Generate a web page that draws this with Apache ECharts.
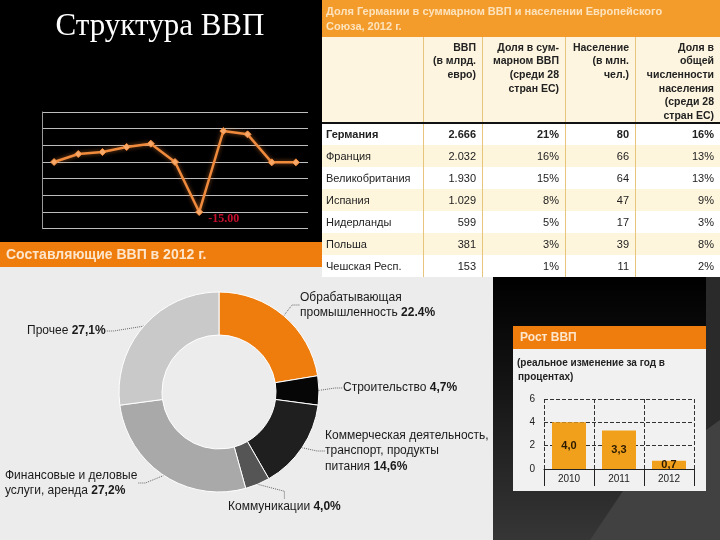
<!DOCTYPE html>
<html><head><meta charset="utf-8">
<script src="https://cdn.jsdelivr.net/npm/echarts@6/dist/echarts.min.js"></script>
<style>html,body{margin:0;padding:0;background:#000}#c{width:720px;height:540px}</style>
</head><body><div id="c"></div>
<script>
// ---------- data ----------
var lineCats = ['1','2','3','4','5','6','7','8','9','10','11'];
var lineValues = [0, 2.4, 3, 4.5, 5.5, 0, -15, 9.3, 8.3, -0.1, -0.1];

var pieNames = ['Обрабатывающая\nпромышленность', 'Строительство', 'Коммерческая деятельность,\nтранспорт, продукты\nпитания', 'Коммуникации', 'Финансовые и деловые\nуслуги, аренда', 'Прочее'];
var pieValues = [22.4, 4.7, 14.6, 4.0, 27.2, 27.1];
var pieLabels = ['22.4%', '4,7%', '14,6%', '4,0%', '27,2%', '27,1%'];

var barCats = ['2010', '2011', '2012'];
var barValues = [4.0, 3.3, 0.7];
var barLabels = ['4,0', '3,3', '0,7'];

var tableTitle = ['Доля Германии в суммарном ВВП и населении Европейского', 'Союза, 2012 г.'];
var tableHeaders = [
  [],
  ['ВВП', '(в млрд.', 'евро)'],
  ['Доля в сум-', 'марном ВВП', '(среди 28', 'стран ЕС)'],
  ['Население', '(в млн.', 'чел.)'],
  ['Доля в', 'общей', 'численности', 'населения', '(среди 28', 'стран ЕС)']
];
var countries = ['Германия', 'Франция', 'Великобритания', 'Испания', 'Нидерланды', 'Польша', 'Чешская Респ.'];
var gdpBn = ['2.666', '2.032', '1.930', '1.029', '599', '381', '153'];
var gdpShare = ['21%', '16%', '15%', '8%', '5%', '3%', '1%'];
var population = ['80', '66', '64', '47', '17', '39', '11'];
var popShare = ['16%', '13%', '13%', '9%', '3%', '8%', '2%'];

// ---------- layout helpers ----------
var SANS = '"Liberation Sans", Arial, sans-serif';
var SERIF = '"Liberation Serif", "DejaVu Serif", serif';
var colL = [322, 423, 482, 565, 635];
var colR = [423, 482, 565, 635, 720];
var rowTop = 123, rowH = 22;
var g = [];
// backgrounds
g.push({type:'rect', shape:{x:0,y:0,width:720,height:540}, style:{fill:'#000'}});
g.push({type:'rect', shape:{x:0,y:266,width:493,height:274}, style:{fill:'#ececec'}});
g.push({type:'rect', shape:{x:0,y:242,width:322,height:25}, style:{fill:'#ef7d0e'}});
g.push({type:'text', x:6, y:255, style:{text:'Составляющие ВВП в 2012 г.', fill:'#fde6cc', font:'bold 14px '+SANS, textVerticalAlign:'middle'}});
// title
g.push({type:'text', x:160, y:27, style:{text:'Структура ВВП', fill:'#fff', font:'31px '+SERIF, textAlign:'center', textVerticalAlign:'middle'}});
// right dark panel
g.push({type:'rect', shape:{x:493,y:277,width:227,height:263}, style:{fill:{type:'linear',x:0,y:0,x2:0,y2:1,colorStops:[{offset:0,color:'#000'},{offset:0.35,color:'#111'},{offset:1,color:'#363636'}]}}});
g.push({type:'rect', shape:{x:706,y:277,width:14,height:263}, style:{fill:'#2a2a2a'}});
g.push({type:'polygon', shape:{points:[[590,540],[625,488],[720,420],[720,540]]}, style:{fill:'#414141'}});
// table
g.push({type:'rect', shape:{x:322,y:0,width:398,height:37}, style:{fill:'#f39c2c'}});
tableTitle.forEach(function(t,i){
  g.push({type:'text', x:326, y:12+i*15, style:{text:t, fill:'#fde3bd', font:'bold 11px '+SANS, textVerticalAlign:'middle'}});
});
g.push({type:'rect', shape:{x:322,y:37,width:398,height:86}, style:{fill:'#fdf5df'}});
countries.forEach(function(c,i){
  g.push({type:'rect', shape:{x:322,y:rowTop+i*rowH,width:398,height:rowH}, style:{fill: i%2===1 ? '#fdf5dc' : '#ffffff'}});
});
for (var k=1;k<colL.length;k++){
  g.push({type:'line', shape:{x1:colL[k]+0.5,y1:37,x2:colL[k]+0.5,y2:rowTop+7*rowH}, style:{stroke:'#e7c57c',lineWidth:1}});
}
g.push({type:'rect', shape:{x:322,y:122,width:398,height:2}, style:{fill:'#111'}});
tableHeaders.forEach(function(lines,ci){
  lines.forEach(function(t,li){
    g.push({type:'text', x:colR[ci]-6, y:48+li*13.6, style:{text:t, fill:'#222', font:'bold 10.5px '+SANS, textAlign:'right', textVerticalAlign:'middle'}});
  });
});
var cols = [countries, gdpBn, gdpShare, population, popShare];
cols.forEach(function(arr,ci){
  arr.forEach(function(t,ri){
    var bold = ri===0 ? 'bold ' : '';
    var y = rowTop + ri*rowH + rowH/2 + 1;
    if (ci===0) g.push({type:'text', x:326, y:y, style:{text:t, fill:'#222', font:bold+'11px '+SANS, textVerticalAlign:'middle'}});
    else g.push({type:'text', x:colR[ci]-6, y:y, style:{text:t, fill:'#222', font:bold+'11px '+SANS, textAlign:'right', textVerticalAlign:'middle'}});
  });
});
// bar box
g.push({type:'rect', shape:{x:513,y:326,width:193,height:165}, style:{fill:'#f1f1f1'}});
g.push({type:'rect', shape:{x:513,y:326,width:193,height:23}, style:{fill:'#ef7d0e'}});
g.push({type:'text', x:520, y:338, style:{text:'Рост ВВП', fill:'#fde6cc', font:'bold 12px '+SANS, textVerticalAlign:'middle'}});
g.push({type:'text', x:517, y:363, style:{text:'(реальное изменение за год в', fill:'#222', font:'bold 10px '+SANS, textVerticalAlign:'middle'}});
g.push({type:'text', x:518, y:377, style:{text:'процентах)', fill:'#222', font:'bold 10px '+SANS, textVerticalAlign:'middle'}});

var labelPos = [
  {x:300, y:305}, {x:343, y:388}, {x:325, y:451}, {x:228, y:507}, {x:5, y:483}, {x:27, y:331}
];

var option = {
  animation: false,
  graphic: {elements: g},
  grid: [
    {left:42, top:112, width:266, height:116.7, containLabel:false},
    {left:544, top:399, width:150, height:70, containLabel:false}
  ],
  xAxis: [
    {gridIndex:0, type:'category', data:lineCats, boundaryGap:true,
     axisLine:{show:false}, axisTick:{show:false}, axisLabel:{show:false}},
    {gridIndex:1, type:'category', data:barCats,
     axisLine:{show:true, lineStyle:{color:'#222', width:1}},
     axisTick:{show:true, length:17, interval:0, lineStyle:{color:'#222'}},
     axisLabel:{color:'#222', fontSize:10, fontFamily:SANS, margin:5},
     splitLine:{show:true, interval:0, lineStyle:{color:'#333', type:'dashed'}}}
  ],
  yAxis: [
    {gridIndex:0, type:'value', min:-20, max:15, interval:5,
     axisLine:{show:true, lineStyle:{color:'#9a9a9a'}}, axisTick:{show:false}, axisLabel:{show:false},
     splitLine:{lineStyle:{color:'#bdbdbd', width:1}}},
    {gridIndex:1, type:'value', min:0, max:6, interval:2,
     axisLine:{show:false}, axisTick:{show:false},
     axisLabel:{color:'#222', fontSize:10, fontFamily:SANS, margin:9},
     splitLine:{lineStyle:{color:'#333', type:'dashed'}}}
  ],
  series: [
    {type:'line', xAxisIndex:0, yAxisIndex:0,
     data: lineValues.map(function(v,i){
       if (v === Math.min.apply(null, lineValues)) return {value:v, label:{show:true, formatter: v.toFixed(2), position:'right', offset:[0,7], color:'#c8102e', fontFamily:SERIF, fontSize:12, fontWeight:'bold'}};
       return v;
     }),
     symbol:'diamond', symbolSize:7, showAllSymbol:true,
     lineStyle:{color:'#f08a3c', width:2.5, shadowColor:'rgba(240,130,50,0.6)', shadowBlur:4},
     itemStyle:{color:'#f7a868', borderColor:'#f08a3c', borderWidth:1}},
    {type:'bar', xAxisIndex:1, yAxisIndex:1, data:barValues, barWidth:'68%',
     itemStyle:{color:'#f1a01c'},
     label:{show:true, position:'inside', formatter:function(p){return barLabels[p.dataIndex];}, color:'#2b1a00', fontSize:11, fontWeight:'bold', fontFamily:SANS}},
    {type:'pie', center:[219, 392], radius:[57, 100], startAngle:90, clockwise:true,
     data: pieValues.map(function(v,i){return {value:v, name:pieNames[i]};}),
     color:['#ef7d0e','#060606','#1f1f1f','#555555','#a9a9a9','#c9c9c9'],
     itemStyle:{borderColor:'#ffffff', borderWidth:1},
     label:{show:true, color:'#1a1a1a', fontFamily:SANS, fontSize:12, lineHeight:15.5,
       formatter:function(p){return '{n|'+pieNames[p.dataIndex]+' }{b|'+pieLabels[p.dataIndex]+'}';},
       rich:{n:{fontSize:12, fontFamily:SANS, color:'#1a1a1a', lineHeight:15.5}, b:{fontSize:12, fontFamily:SANS, fontWeight:'bold', color:'#1a1a1a', lineHeight:15.5}}},
     labelLine:{show:true, length:8, length2:8, lineStyle:{color:'#666', type:'dotted', width:1}},
     labelLayout:function(p){var q=labelPos[p.dataIndex]; return {x:q.x, y:q.y, align:'left', verticalAlign:'middle'};}
    }
  ]
};
var chart = echarts.init(document.getElementById('c'), null, {renderer:'canvas'});
chart.setOption(option);
</script></body></html>
